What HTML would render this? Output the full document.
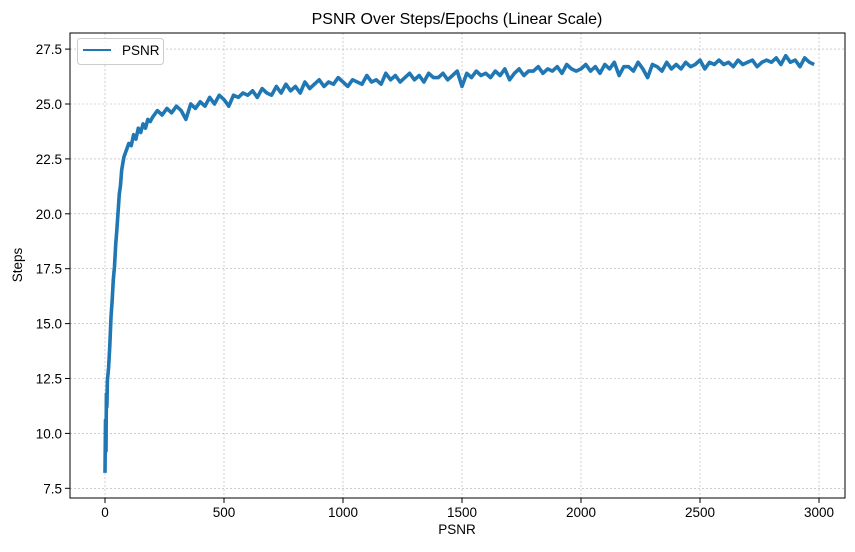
<!DOCTYPE html>
<html><head><meta charset="utf-8"><style>
body{margin:0;background:#fff;}
svg text{font-family:"Liberation Sans",sans-serif;fill:#000;}
</style></head><body>
<svg id="chart" width="855" height="547">
<rect width="855" height="547" fill="#fff"/>
<g id="grid"></g>
<g id="axes"></g>
<polyline id="line" fill="none" stroke="#1f77b4" stroke-width="3.6" stroke-linejoin="round"/>
<rect x="70" y="33" width="775" height="465" fill="none" stroke="#000" stroke-width="1"/>
<text x="457" y="24" font-size="16" text-anchor="middle">PSNR Over Steps/Epochs (Linear Scale)</text>
<text x="457" y="534" font-size="13.5" text-anchor="middle">PSNR</text>
<text x="22" y="265" font-size="13.5" text-anchor="middle" transform="rotate(-90 22 265)">Steps</text>
<g>
<rect x="77.5" y="38.5" width="86" height="26" rx="3" fill="#fff" fill-opacity="0.8" stroke="#ccc"/>
<line x1="83" y1="50" x2="111" y2="50" stroke="#1f77b4" stroke-width="2"/>
<text x="122" y="55" font-size="13.5">PSNR</text>
</g>
</svg>
<script>
const xTicks=[0,500,1000,1500,2000,2500,3000];
const yTicks=[7.5,10.0,12.5,15.0,17.5,20.0,22.5,25.0,27.5];
const steps=[0,2,4,6,8,10,15,20,25,30,35,40,45,50,55,60,65,70,75,80,90,100,110,120,130,140,150,160,170,180,190,
200,220,240,260,280,300,320,340,360,380,400,420,440,460,480,500,520,540,560,580,
600,620,640,660,680,700,720,740,760,780,800,820,840,860,880,900,920,940,960,980,
1000,1020,1040,1060,1080,1100,1120,1140,1160,1180,1200,1220,1240,1260,1280,1300,1320,1340,1360,1380,
1400,1420,1440,1460,1480,1500,1520,1540,1560,1580,1600,1620,1640,1660,1680,1700,1720,1740,1760,1780,
1800,1820,1840,1860,1880,1900,1920,1940,1960,1980,2000,2020,2040,2060,2080,2100,2120,2140,2160,2180,
2200,2220,2240,2260,2280,2300,2320,2340,2360,2380,2400,2420,2440,2460,2480,2500,2520,2540,2560,2580,
2600,2620,2640,2660,2680,2700,2720,2740,2760,2780,2800,2820,2840,2860,2880,2900,2920,2940,2960,2980];
const psnr=[8.2,10.6,9.2,11.8,11.2,12.4,13.0,14.0,15.3,16.0,17.0,17.6,18.6,19.3,20.1,20.9,21.3,22.0,22.3,22.6,22.9,23.2,23.1,23.6,23.4,23.9,23.7,24.1,23.9,24.3,24.2,
24.4,24.7,24.5,24.8,24.6,24.9,24.7,24.3,25.0,24.8,
25.1,24.9,25.3,25.0,25.4,25.2,24.9,25.4,25.3,25.5,
25.4,25.6,25.3,25.7,25.5,25.4,25.8,25.5,25.9,25.6,
25.8,25.5,26.0,25.7,25.9,26.1,25.8,26.0,25.9,26.2,
26.0,25.8,26.1,26.0,25.9,26.3,26.0,26.1,25.9,26.4,
26.1,26.3,26.0,26.2,26.4,26.1,26.3,26.0,26.4,26.2,
26.2,26.4,26.1,26.3,26.5,25.8,26.4,26.2,26.5,26.3,
26.4,26.2,26.5,26.3,26.6,26.1,26.4,26.6,26.3,26.5,
26.5,26.7,26.4,26.6,26.5,26.7,26.4,26.8,26.6,26.5,
26.6,26.8,26.5,26.7,26.4,26.8,26.6,26.9,26.3,26.7,
26.7,26.5,26.9,26.6,26.2,26.8,26.7,26.5,26.9,26.6,
26.8,26.6,26.9,26.7,26.8,27.0,26.6,26.9,26.8,27.0,
26.8,26.9,26.7,27.0,26.8,26.9,27.0,26.7,26.9,27.0,
26.9,27.1,26.8,27.2,26.9,27.0,26.7,27.1,26.9,26.8];
const NS='http://www.w3.org/2000/svg';
function xs(v){return 105+v*(714/3000);}
function ys(v){return 104+(25-v)*(54.9/2.5);}
const grid=document.getElementById('grid'),axes=document.getElementById('axes');
function mk(tag,attrs,parent){const e=document.createElementNS(NS,tag);for(const k in attrs)e.setAttribute(k,attrs[k]);parent.appendChild(e);return e;}
xTicks.forEach(t=>{
  const x=xs(t);
  const g=mk('line',{x1:x,x2:x,y1:33,y2:498,stroke:'#b0b0b0','stroke-width':0.6,'stroke-dasharray':'2,2'},grid);
  
  
  const tk=mk('line',{x1:x,x2:x,y1:498,y2:503,stroke:'#000'},axes);
  
  
  const tx=mk('text',{x:x,y:517,'font-size':13.5,'text-anchor':'middle'},axes);
  tx.textContent=t;
  
  
});
yTicks.forEach(t=>{
  const y=ys(t);
  const g=mk('line',{x1:70,x2:845,y1:y,y2:y,stroke:'#b0b0b0','stroke-width':0.6,'stroke-dasharray':'2,2'},grid);
  
  
  const tk=mk('line',{x1:65,x2:70,y1:y,y2:y,stroke:'#000'},axes);
  
  
  const tx=mk('text',{x:62,y:y+5,'font-size':13.5,'text-anchor':'end'},axes);
  tx.textContent=t.toFixed(1);
  
  
});
document.getElementById('line').setAttribute('points',steps.map((s,i)=>xs(s).toFixed(1)+','+ys(psnr[i]).toFixed(1)).join(' '));
</script>
</body></html>
